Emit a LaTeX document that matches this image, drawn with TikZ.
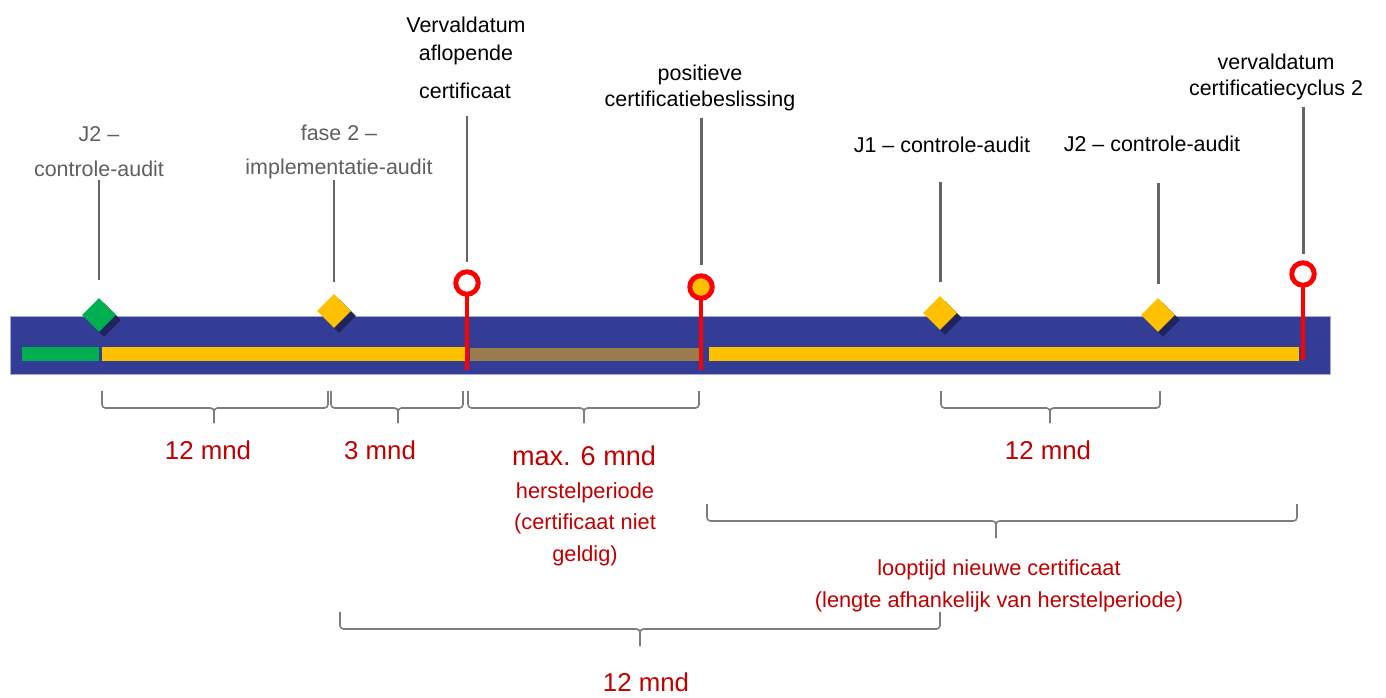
\documentclass[tikz,border=0pt]{standalone}
\usepackage{fontspec}
\setmainfont{Liberation Sans}
\usetikzlibrary{shapes.geometric,shadows}

\definecolor{balk}{RGB}{51,61,150}
\definecolor{balkrand}{RGB}{165,170,215}
\definecolor{groen}{RGB}{0,176,80}
\definecolor{geel}{RGB}{255,192,0}
\definecolor{bruin}{RGB}{152,124,78}
\definecolor{schaduw}{RGB}{32,36,92}
\definecolor{rood}{RGB}{255,0,0}
\definecolor{roodtekst}{RGB}{192,0,0}
\definecolor{tekstgrijs}{RGB}{95,95,95}
\definecolor{steelgrijs}{RGB}{100,100,100}
\definecolor{haakgrijs}{RGB}{125,125,125}

% accolade: x links, x rechts, x punt, y boven, y lijn, y punt
\newcommand{\accolade}[6]{%
  \draw[haak] (#1,#4) |- (#3,#5) -- (#3,#6);
  \draw[haak] (#2,#4) |- (#3,#5) -- (#3,#6);}

\begin{document}
\begin{tikzpicture}[x=0.02cm,y=-0.02cm,
    audit/.style={diamond,inner sep=0pt,minimum size=0.68cm,
      drop shadow={shadow xshift=0.1cm,shadow yshift=-0.1cm,opacity=1,fill=schaduw}},
    datum/.style={circle,draw=rood,line width=2.8pt,fill=white,inner sep=0pt,
      minimum size=0.45cm},
    steel/.style={draw=steelgrijs,line width=1.7pt},
    rodesteel/.style={draw=rood,line width=2.3pt},
    haak/.style={draw=haakgrijs,line width=0.9pt,rounded corners=2pt},
    grijslabel/.style={text=tekstgrijs,align=center,font=\fontsize{12.2}{19.8}\selectfont},
    zwartlabel/.style={text=black,align=center,font=\fontsize{12.2}{15}\selectfont},
    roodlabel/.style={text=roodtekst,align=center,font=\fontsize{14.7}{18}\selectfont},
    roodklein/.style={text=roodtekst,align=center,font=\fontsize{12.4}{18}\selectfont}]

    \useasboundingbox (0,0) rectangle (1386,697);

    % tijdbalk
    \fill[balk,draw=balkrand,line width=0.4pt] (10,316) rectangle (1330,374);
    \fill[groen] (22,347) rectangle (99,361);
    \fill[geel] (102,347) rectangle (465,361);
    \fill[bruin] (470,348) rectangle (701,361);
    \fill[geel] (709,347) rectangle (1299,361);

    % markeringen
    \node[audit,fill=groen] (j2a) at (99,315) {};
    \node[audit,fill=geel] (fase2) at (334,311) {};
    \node[audit,fill=geel] (j1) at (940,313) {};
    \node[audit,fill=geel] (j2b) at (1158,315) {};

    \coordinate (v1) at (467,370);
    \coordinate (pb) at (701,370);
    \coordinate (v2) at (1303,360);
    \draw[rodesteel] (467,283) -- (v1);
    \draw[rodesteel] (701,287) -- (pb);
    \draw[rodesteel] (1303,274) -- (v2);
    \node[datum] (verval1) at (467,283) {};
    \node[datum,fill=geel] (besluit) at (701,287) {};
    \node[datum] (verval2) at (1303,274) {};

    % teksten
    \node[grijslabel] (tj2a) at (99,152) {J2 –\\controle-audit};
    \node[grijslabel] (tfase2) at (339,152) {fase 2 –\\implementatie-audit};
    \node[zwartlabel] (tverval1) at (466,25) {Vervaldatum};
    \node[zwartlabel] (tverval1b) at (466,55) {aflopende};
    \node[zwartlabel] (tverval1c) at (465,91) {certificaat};
    \node[zwartlabel] (tbesluit) at (700,88) {positieve\\certificatiebeslissing};
    \node[zwartlabel] (tj1) at (942,145) {J1 – controle-audit};
    \node[zwartlabel] (tj2b) at (1152,144) {J2 – controle-audit};
    \node[zwartlabel] (tverval2) at (1276,77) {vervaldatum\\certificatiecyclus 2};

    % grijze stelen
    \draw[steel] (99,180) -- (99,280);
    \draw[steel] (334,180) -- (334,282);
    \draw[steel] (467,116) -- (467,262);
    \draw[steel] (701,118) -- (701,265);
    \draw[steel] (940,182) -- (940,282);
    \draw[steel] (1158,183) -- (1158,284);
    \draw[steel] (1303,107) -- (1303,254);

    % accolades
    \accolade{102}{328}{214}{391}{408}{423}
    \accolade{331}{463}{398}{391}{408}{423}
    \accolade{468}{699}{584}{391}{408}{423}
    \accolade{941}{1160}{1050}{391}{408}{423}
    \accolade{707}{1297}{996}{504}{521}{538}
    \accolade{340}{940}{640}{612}{629}{646}

    % duur
    \node[roodlabel] (d1) at (208,450) {12 mnd};
    \node[roodlabel] (d2) at (380,450) {3 mnd};
    \node[roodlabel,font=\fontsize{15.4}{18}\selectfont] (d3) at (584,456) {max. 6 mnd};
    \node[roodklein] (d3b) at (585,524) {herstelperiode\\(certificaat niet\\geldig)};
    \node[roodlabel] (d4) at (1048,450) {12 mnd};
    \node[roodklein] (d5) at (999,586) {looptijd nieuwe certificaat\\(lengte afhankelijk van herstelperiode)};
    \node[roodlabel] (d6) at (646,682) {12 mnd};
\end{tikzpicture}
\end{document}
